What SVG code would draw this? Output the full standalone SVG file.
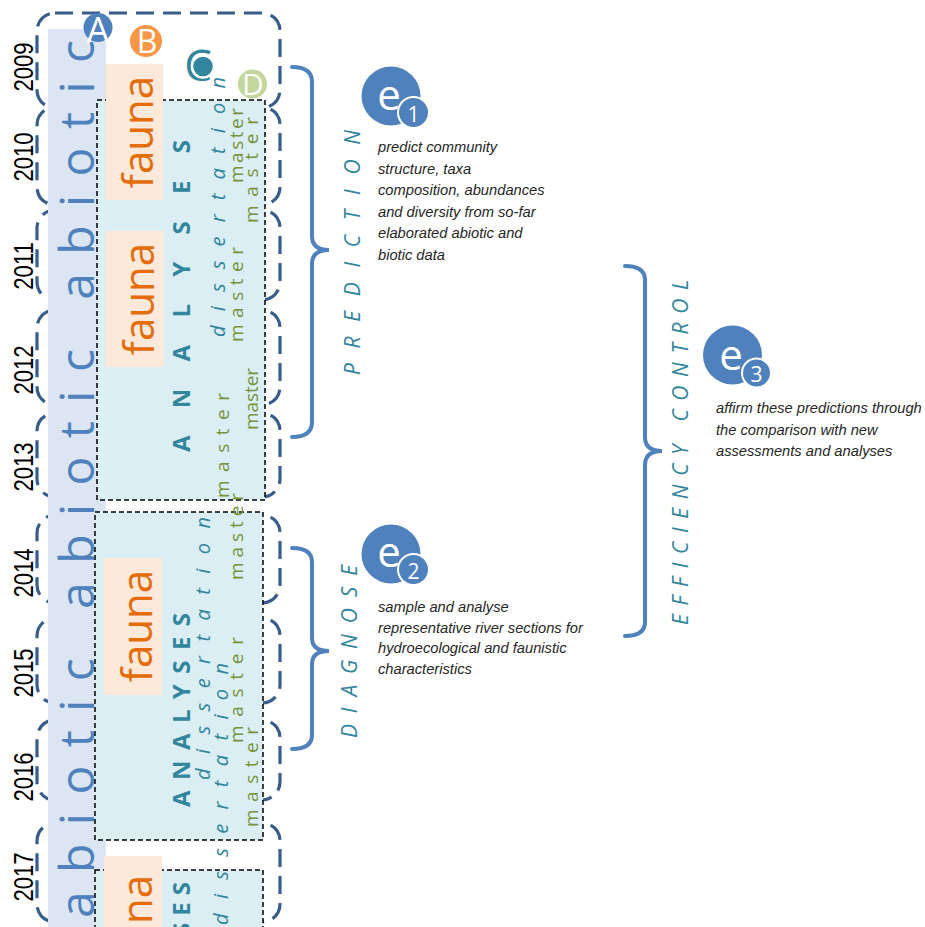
<svg xmlns="http://www.w3.org/2000/svg" width="925" height="927" viewBox="0 0 925 927">
<style>
.yb{fill:none;stroke:#385D8A;stroke-width:3.2;stroke-dasharray:18 9}
.an{fill:#DAEEF3;stroke:#000;stroke-width:1.5;stroke-dasharray:5 3}
.fa{fill:#FDE9D9}
.year{font-family:"Liberation Sans",Arial,sans-serif;font-size:24px;fill:#000;text-anchor:middle}
.abio{font-family:"Open Sans",sans-serif;font-size:48px;fill:#4F81BD}
.fauna{font-family:"Open Sans",sans-serif;font-size:42px;fill:#E46C0A;text-anchor:middle}
.anl{font-family:"Open Sans",sans-serif;font-size:24px;font-weight:bold;fill:#31859C}
.dis{font-family:"Open Sans",sans-serif;font-size:20px;font-style:italic;fill:#31859C}
.mas{font-family:"Open Sans",sans-serif;font-size:19px;fill:#77933C}
.lab{font-family:"Open Sans",sans-serif;font-size:21px;font-style:italic;fill:#31859C}
.br{fill:none;stroke:#4F81BD;stroke-width:4;stroke-linecap:round}
.desc{font-family:"Liberation Sans",Arial,sans-serif;font-size:14.7px;font-style:italic;fill:#262626}
.ec{fill:#4F81BD}
.es{fill:#4F81BD;stroke:#fff;stroke-width:2}
.et{font-family:"Open Sans",sans-serif;fill:#fff;text-anchor:middle}
.lt{font-family:"Open Sans",sans-serif;text-anchor:middle}
</style>

<g id="year-boxes">
<rect class="yb" x="37" y="13" width="243" height="95" rx="18"/>
<rect class="yb" x="37" y="107" width="243" height="98" rx="18"/>
<rect class="yb" x="37" y="210" width="243" height="90" rx="18"/>
<rect class="yb" x="37" y="310" width="243" height="95" rx="18"/>
<rect class="yb" x="37" y="413" width="243" height="84" rx="18"/>
<rect class="yb" x="37" y="515" width="243" height="88" rx="18"/>
<rect class="yb" x="37" y="618" width="243" height="85" rx="18"/>
<rect class="yb" x="37" y="720" width="243" height="80" rx="18"/>
<rect class="yb" x="37" y="823" width="243" height="99" rx="18"/>
</g>

<g id="years">
<text class="year" transform="translate(33,67) rotate(-90) scale(0.92,1.15)">2009</text>
<text class="year" transform="translate(33,157) rotate(-90) scale(0.92,1.15)">2010</text>
<text class="year" transform="translate(33,266) rotate(-90) scale(0.92,1.15)">2011</text>
<text class="year" transform="translate(33,370) rotate(-90) scale(0.92,1.15)">2012</text>
<text class="year" transform="translate(33,467) rotate(-90) scale(0.92,1.15)">2013</text>
<text class="year" transform="translate(33,573) rotate(-90) scale(0.92,1.15)">2014</text>
<text class="year" transform="translate(33,673) rotate(-90) scale(0.92,1.15)">2015</text>
<text class="year" transform="translate(33,777) rotate(-90) scale(0.92,1.15)">2016</text>
<text class="year" transform="translate(33,877) rotate(-90) scale(0.92,1.15)">2017</text>
</g>

<g id="abiotic">
<rect x="48" y="29" width="58" height="898" fill="#DCE6F2"/>
<text class="abio" transform="translate(94,918) rotate(-90)" textLength="878" lengthAdjust="spacing">abiotic abiotic abiotic</text>
</g>

<g id="analyses-boxes">
<rect class="an" x="97" y="100" width="168" height="400"/>
<rect class="an" x="95" y="512" width="168" height="328"/>
<rect class="an" x="95" y="870" width="168" height="70"/>
</g>

<g id="fauna">
<rect class="fa" x="106" y="64" width="57" height="136"/>
<text class="fauna" transform="translate(153,132) rotate(-90)">fauna</text>
<rect class="fa" x="106" y="231" width="58" height="136"/>
<text class="fauna" transform="translate(154,299) rotate(-90)">fauna</text>
<rect class="fa" x="104" y="558" width="58" height="137"/>
<text class="fauna" transform="translate(152,626) rotate(-90)">fauna</text>
<rect class="fa" x="104" y="856" width="58" height="71"/>
<text class="fauna" transform="translate(152,931) rotate(-90)">fauna</text>
</g>

<g id="analyses-text">
<text class="anl" transform="translate(190,452) rotate(-90)" textLength="312" lengthAdjust="spacing">ANALYSES</text>
<text class="anl" transform="translate(190,807) rotate(-90)" textLength="194" lengthAdjust="spacing">ANALYSES</text>
<text class="anl" transform="translate(190,1052) rotate(-90)" textLength="170" lengthAdjust="spacing">ANALYSES</text>
</g>

<g id="dissertation-text">
<text class="dis" transform="translate(225,337) rotate(-90)" textLength="260" lengthAdjust="spacing">dissertation</text>
<text class="dis" transform="translate(210,780) rotate(-90)" textLength="263" lengthAdjust="spacing">dissertation</text>
<text class="dis" transform="translate(228,925) rotate(-90)" textLength="262" lengthAdjust="spacing">dissertation</text>
</g>

<g id="master-text">
<text class="mas" transform="translate(243,183) rotate(-90)" textLength="75" lengthAdjust="spacing">master</text>
<text class="mas" transform="translate(258,223) rotate(-90)" textLength="106" lengthAdjust="spacing">master</text>
<text class="mas" transform="translate(243,342) rotate(-90)" textLength="95" lengthAdjust="spacing">master</text>
<text class="mas" transform="translate(258,430) rotate(-90)" textLength="62" lengthAdjust="spacing">master</text>
<text class="mas" transform="translate(229,498) rotate(-90)" textLength="105" lengthAdjust="spacing">master</text>
<text class="mas" transform="translate(243,580) rotate(-90)" textLength="87" lengthAdjust="spacing">master</text>
<text class="mas" transform="translate(243,743) rotate(-90)" textLength="106" lengthAdjust="spacing">master</text>
<text class="mas" transform="translate(258,827) rotate(-90)" textLength="100" lengthAdjust="spacing">master</text>
</g>

<g id="markers">
<g id="marker-A"><circle cx="98" cy="27.5" r="14.5" fill="#4F81BD"/><text class="lt" x="98" y="43" fill="#fff" font-size="36">A</text></g>
<g id="marker-B"><circle cx="146" cy="41" r="16" fill="#F79646"/><text class="lt" x="147" y="53" fill="#fff" font-size="32">B</text></g>
<g id="marker-C"><text class="lt" x="198" y="81" fill="#31859C" font-size="44">C</text><circle cx="203" cy="66.5" r="11" fill="#31859C" stroke="#fff" stroke-width="2.5"/></g>
<g id="marker-D"><circle cx="252.5" cy="84" r="14.5" fill="#C3D69B"/><text class="lt" x="253" y="95" fill="#fff" font-size="30">D</text></g>
</g>

<g id="connectors">
<path class="br" d="M292 67 Q312 67 312 82 L312 236 Q312 250 329 250 Q312 250 312 264 L312 422 Q312 437 292 437"/>
<path class="br" d="M292 548 Q312 548 312 562 L312 638 Q312 651 329 651 Q312 651 312 664 L312 735 Q312 749 292 749"/>
<path class="br" d="M625 266 Q645 266 645 280 L645 437 Q645 451 662 451 Q645 451 645 465 L645 622 Q645 636 625 636"/>
</g>

<g id="labels">
<text class="lab" transform="translate(360,375) rotate(-90)" textLength="245" lengthAdjust="spacing">PREDICTION</text>
<text class="lab" transform="translate(357,738) rotate(-90)" textLength="173" lengthAdjust="spacing">DIAGNOSE</text>
<text class="lab" transform="translate(688,625) rotate(-90)" textLength="345" lengthAdjust="spacing">EFFICIENCY CONTROL</text>
</g>

<g id="e1">
<circle class="ec" cx="391" cy="96" r="29.5"/>
<text class="et" x="389" y="110" font-size="42">e</text>
<circle class="es" cx="413.5" cy="112.5" r="15.5"/>
<text class="et" x="413.5" y="122" font-size="21">1</text>
<text class="desc" x="378" y="152">predict community</text>
<text class="desc" x="378" y="173.5">structure, taxa</text>
<text class="desc" x="378" y="195">composition, abundances</text>
<text class="desc" x="378" y="216.5">and diversity from so-far</text>
<text class="desc" x="378" y="238">elaborated abiotic and</text>
<text class="desc" x="378" y="259.5">biotic data</text>
</g>

<g id="e2">
<circle class="ec" cx="391" cy="554" r="29.5"/>
<text class="et" x="389" y="567" font-size="42">e</text>
<circle class="es" cx="413.5" cy="569.5" r="15.5"/>
<text class="et" x="413.5" y="579" font-size="21">2</text>
<text class="desc" x="378" y="612">sample and analyse</text>
<text class="desc" x="378" y="632.5">representative river sections for</text>
<text class="desc" x="378" y="653">hydroecological and faunistic</text>
<text class="desc" x="378" y="673.5">characteristics</text>
</g>

<g id="e3">
<circle class="ec" cx="732.5" cy="355" r="29.5"/>
<text class="et" x="731" y="370" font-size="42">e</text>
<circle class="es" cx="756.5" cy="373" r="14.5"/>
<text class="et" x="756.5" y="382" font-size="21">3</text>
<text class="desc" x="716" y="413">affirm these predictions through</text>
<text class="desc" x="716" y="434.5">the comparison with new</text>
<text class="desc" x="716" y="456">assessments and analyses</text>
</g>
</svg>
